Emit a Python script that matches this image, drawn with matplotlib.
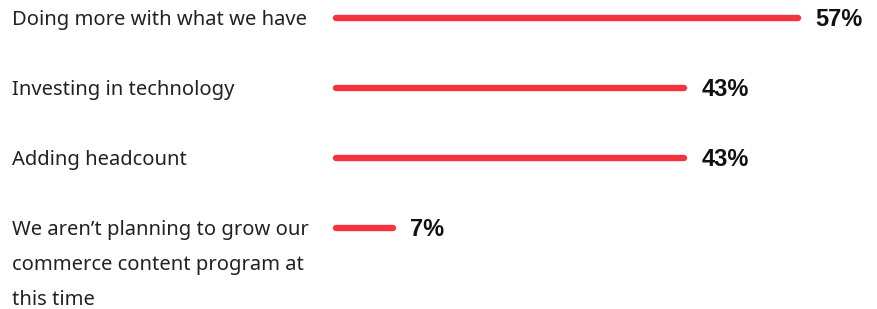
import matplotlib.pyplot as plt
from matplotlib.transforms import blended_transform_factory

categories = [
    "Doing more with what we have",
    "Investing in technology",
    "Adding headcount",
    "We aren\u2019t planning to grow our\ncommerce content program at\nthis time",
]
values = [57, 43, 43, 7]
value_labels = ["57%", "43%", "43%", "7%"]

bar_color = "#F5333F"

W, H = 878, 309
fig = plt.figure(figsize=(W / 100, H / 100), dpi=100)
# axes: x=0 at 336px, ~8.1px per point ; rows 70px apart, first at 18px
left = 336 / W
right = (336 + 57 * 8.1) / W
ax = fig.add_axes([left, 0, right - left, 1])
ax.set_xlim(0, 57)
ax.set_ylim((H - 18) / 70, -18 / 70)
ax.axis("off")

for i, (v, lab) in enumerate(zip(values, value_labels)):
    ax.plot([0, v], [i, i], color=bar_color, lw=4.6, solid_capstyle="round", clip_on=False)
    ax.annotate(lab, (v, i), xytext=(12.5, -0.8), textcoords="offset points",
                ha="left", va="center", fontsize=17, fontweight="bold",
                family="Liberation Sans", color="#111111")

tr = blended_transform_factory(fig.transFigure, ax.transData)
for i, cat in enumerate(categories):
    ax.annotate(cat, (12 / W, i), xycoords=tr, xytext=(0, 6), textcoords="offset points",
                ha="left", va="top", fontsize=14.5, family="Noto Sans",
                color="#222222", linespacing=2.0)

fig.savefig("out.png", dpi=100)
